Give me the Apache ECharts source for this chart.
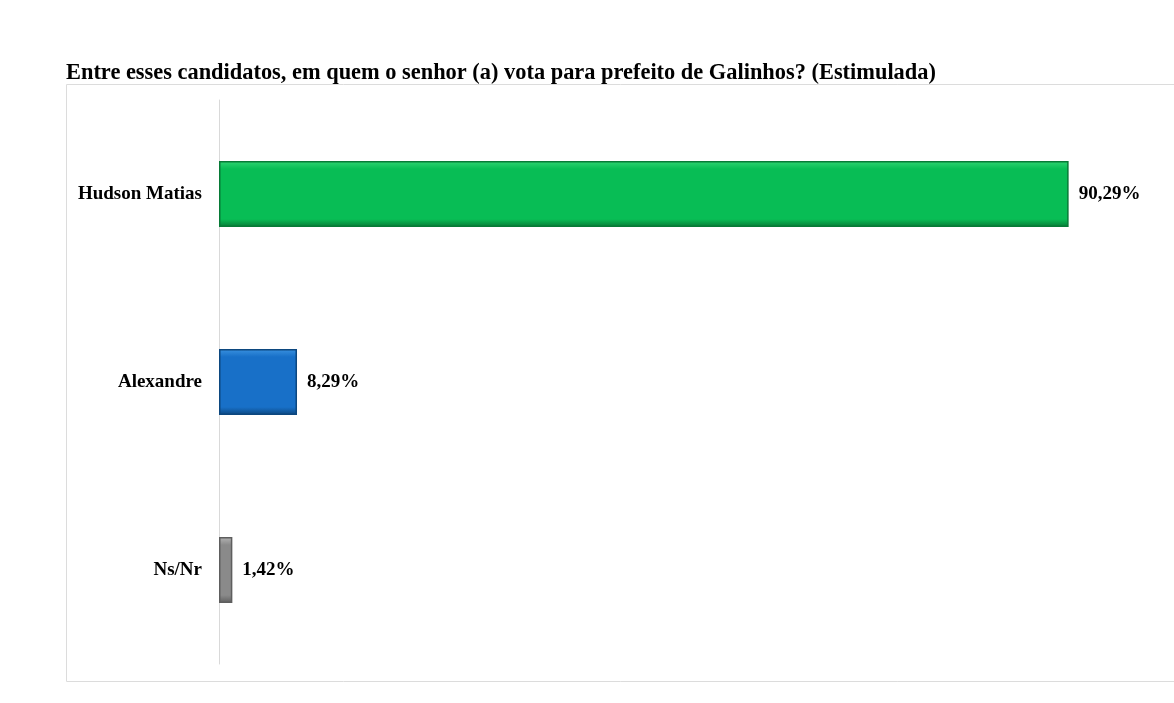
<!DOCTYPE html>
<html><head><meta charset="utf-8">
<script src="https://cdn.jsdelivr.net/npm/echarts@6/dist/echarts.min.js"></script>
<style>html,body{margin:0;padding:0;background:#fff}#c{width:1174px;height:703px}</style>
</head><body><div id="c"></div>
<script>
const titleText = 'Entre esses candidatos, em quem o senhor (a) vota para prefeito de Galinhos? (Estimulada)';
const categories = ['Hudson Matias', 'Alexandre', 'Ns/Nr'];
const values = [90.29, 8.29, 1.42];
const labels = ['90,29%', '8,29%', '1,42%'];
const colors = [
  {main:'#08bd55', light:'#2fd472', dark:'#077a36'},
  {main:'#1870c8', light:'#3a92e0', dark:'#0c477f'},
  {main:'#8a8a8a', light:'#b5b5b5', dark:'#5e5e5e'}
];
const chart = echarts.init(document.getElementById('c'));
const serif = '"Liberation Serif","DejaVu Serif",serif';
chart.setOption({
  animation:false,
  title:{text:titleText,left:61,top:57,textStyle:{fontFamily:serif,fontWeight:'bold',fontSize:22.4,color:'#000'}},
  graphic:[{type:'rect',shape:{x:66.5,y:84.5,width:1130,height:597},style:{fill:'none',stroke:'#dcdcdc',lineWidth:1},z:-1}],
  grid:{left:219,top:100,width:941,height:564},
  xAxis:{type:'value',min:0,max:100,show:false},
  yAxis:{type:'category',data:categories,inverse:true,
    axisLine:{show:true,lineStyle:{color:'#d9d9d9',width:1}},
    axisTick:{show:false},
    axisLabel:{margin:17,fontFamily:serif,fontWeight:'bold',fontSize:19,color:'#000'}},
  series:[{type:'bar',barWidth:66,
    data:values.map((v,i)=>({value:v,itemStyle:{
      color:new echarts.graphic.LinearGradient(0,0,0,1,[
        {offset:0,color:colors[i].light},{offset:0.12,color:colors[i].main},
        {offset:0.88,color:colors[i].main},{offset:1,color:colors[i].dark}]),
      borderColor:colors[i].dark,borderWidth:1.5}})),
    label:{show:true,position:'right',distance:10,fontFamily:serif,fontWeight:'bold',fontSize:19,color:'#000',
      formatter:p=>labels[p.dataIndex]}
  }]
});
</script></body></html>
